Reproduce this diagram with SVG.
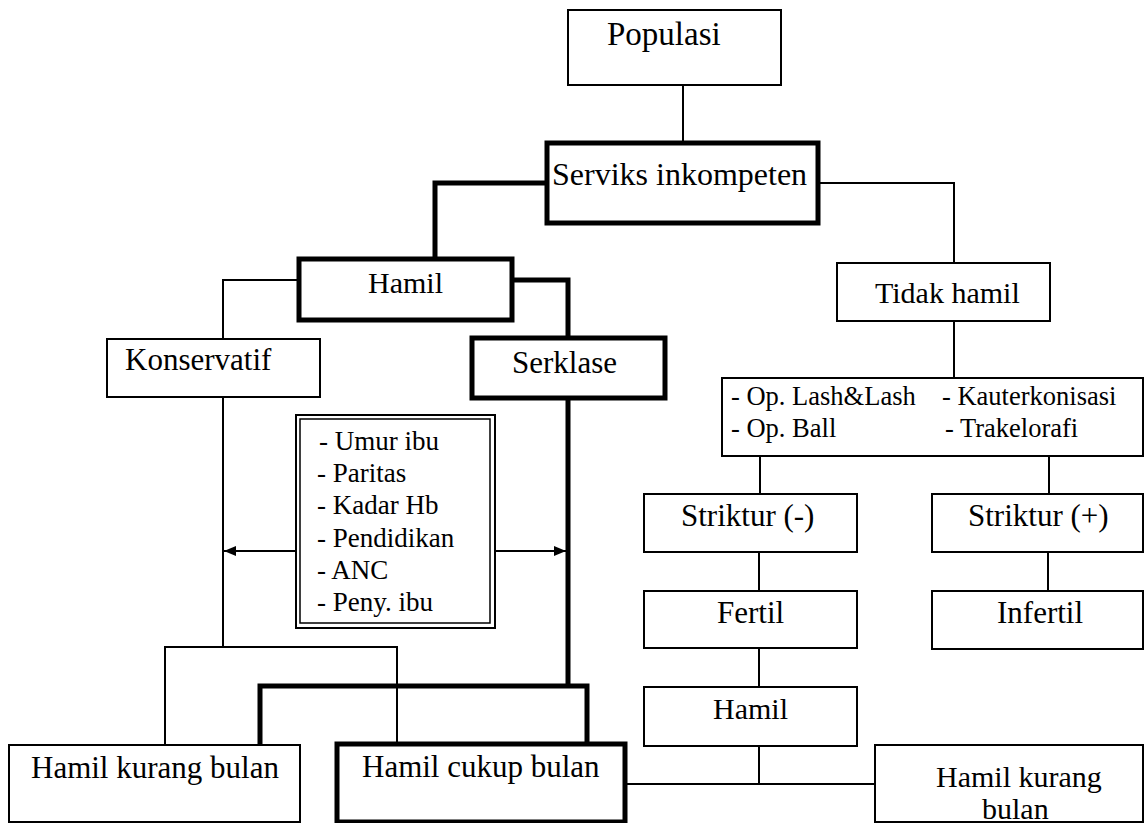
<svg xmlns="http://www.w3.org/2000/svg" width="1144" height="823" viewBox="0 0 1144 823">
  <style>
    .box { fill: #ffffff; stroke: #000000; stroke-width: 2; }
    .thick { fill: #ffffff; stroke: #000000; stroke-width: 5; }
    .ln { fill: none; stroke: #000000; stroke-width: 2; }
    .lnt { fill: none; stroke: #000000; stroke-width: 5; }
    text { font-family: "Liberation Serif", "Times New Roman", serif; fill: #000000; font-size: 31px; }
    .sm { font-size: 27px; }
    .op { font-size: 26.5px; }
  </style>
  <defs>
    <marker id="arr" markerUnits="userSpaceOnUse" markerWidth="14" markerHeight="12" refX="12" refY="6" orient="auto">
      <path d="M0,1 L12,6 L0,11 Z" fill="#000000"/>
    </marker>
  </defs>
  <rect width="1144" height="823" fill="#ffffff"/>

  <g id="connectors">
    <path class="ln" d="M683,85 V143"/>
    <path class="lnt" d="M547,183 H435 V259"/>
    <path class="ln" d="M818,183 H954 V263"/>
    <path class="ln" d="M299,280 H223 V339"/>
    <path class="lnt" d="M512,280 H568 V338"/>
    <path class="ln" d="M954,321 V378"/>
    <path class="ln" d="M760,456 V494"/>
    <path class="ln" d="M1049,456 V494"/>
    <path class="ln" d="M759,552 V591"/>
    <path class="ln" d="M1048,552 V591"/>
    <path class="ln" d="M759,648 V687"/>
    <path class="ln" d="M759,746 V784"/>
    <path class="ln" d="M625,784 H875"/>
    <path class="ln" d="M223,397 V647"/>
    <path class="ln" d="M165,745 V647 H397 V744"/>
    <path class="lnt" d="M568,398 V686"/>
    <path class="lnt" d="M260,745 V686 H587 V744"/>
    <path class="ln" d="M297,551 H224" marker-end="url(#arr)"/>
    <path class="ln" d="M495,551 H566" marker-end="url(#arr)"/>
  </g>

  <g id="populasi">
    <rect class="box" x="568" y="10" width="213" height="75"/>
    <text x="607" y="45" style="font-size:33px">Populasi</text>
  </g>
  <g id="serviks">
    <rect class="thick" x="547" y="143" width="271" height="80"/>
    <text x="552" y="185" style="font-size:32px">Serviks inkompeten</text>
  </g>
  <g id="hamil">
    <rect class="thick" x="299" y="259" width="213" height="61"/>
    <text x="368" y="293" style="font-size:30px">Hamil</text>
  </g>
  <g id="konservatif">
    <rect class="box" x="107" y="339" width="213" height="58"/>
    <text x="125" y="370">Konservatif</text>
  </g>
  <g id="serklase">
    <rect class="thick" x="472" y="338" width="193" height="60"/>
    <text x="512" y="373">Serklase</text>
  </g>
  <g id="faktor">
    <rect class="box" x="296" y="415" width="199" height="213"/>
    <rect fill="none" stroke="#000" stroke-width="1.5" x="300" y="419" width="190" height="204"/>
    <text class="sm" x="319" y="450">- Umur ibu</text>
    <text class="sm" x="317" y="482">- Paritas</text>
    <text class="sm" x="317" y="514">- Kadar Hb</text>
    <text class="sm" x="317" y="547">- Pendidikan</text>
    <text class="sm" x="317" y="579">- ANC</text>
    <text class="sm" x="317" y="611">- Peny. ibu</text>
  </g>
  <g id="tidak-hamil">
    <rect class="box" x="837" y="263" width="213" height="58"/>
    <text x="875" y="303" style="font-size:30px">Tidak hamil</text>
  </g>
  <g id="operasi">
    <rect class="box" x="722" y="378" width="421" height="78"/>
    <text class="op" x="731" y="405">- Op. Lash&amp;Lash</text>
    <text class="op" x="942" y="405">- Kauterkonisasi</text>
    <text class="op" x="731" y="437">- Op. Ball</text>
    <text class="op" x="945" y="437">- Trakelorafi</text>
  </g>
  <g id="striktur-neg">
    <rect class="box" x="644" y="494" width="213" height="58"/>
    <text x="681" y="526">Striktur (-)</text>
  </g>
  <g id="striktur-pos">
    <rect class="box" x="932" y="494" width="211" height="58"/>
    <text x="968" y="526">Striktur (+)</text>
  </g>
  <g id="fertil">
    <rect class="box" x="644" y="591" width="213" height="57"/>
    <text x="717" y="623">Fertil</text>
  </g>
  <g id="infertil">
    <rect class="box" x="932" y="591" width="211" height="58"/>
    <text x="997" y="623">Infertil</text>
  </g>
  <g id="hamil-2">
    <rect class="box" x="644" y="687" width="213" height="59"/>
    <text x="713" y="719" style="font-size:30px">Hamil</text>
  </g>
  <g id="hamil-kurang-bulan-1">
    <rect class="box" x="9" y="745" width="291" height="77"/>
    <text x="31" y="778">Hamil kurang bulan</text>
  </g>
  <g id="hamil-cukup-bulan">
    <rect class="thick" x="337" y="744" width="288" height="78"/>
    <text x="362" y="777">Hamil cukup bulan</text>
  </g>
  <g id="hamil-kurang-bulan-2">
    <rect class="box" x="875" y="745" width="268" height="77"/>
    <text x="936" y="787" style="font-size:30px">Hamil kurang</text>
    <text x="982" y="819" style="font-size:30px">bulan</text>
  </g>
</svg>
